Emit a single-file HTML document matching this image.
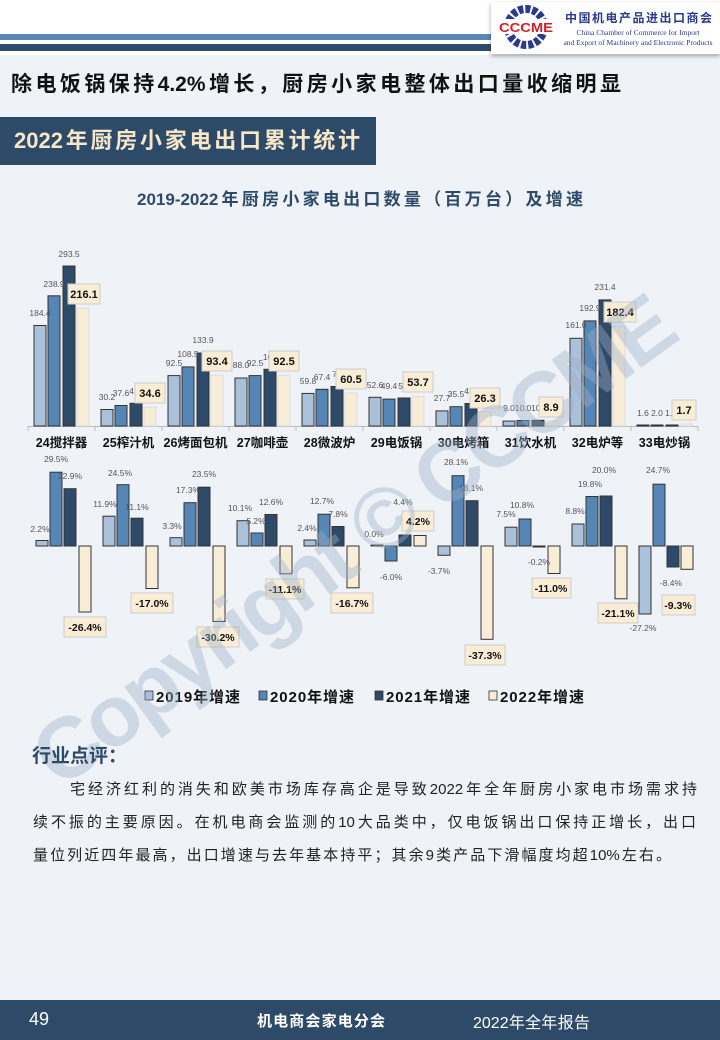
<!DOCTYPE html>
<html><head><meta charset="utf-8"><style>
body{margin:0;width:720px;height:1040px;overflow:hidden;background:#eff3f8;font-family:"Liberation Sans","Noto Sans CJK SC",sans-serif;position:relative}
.abs{position:absolute}
.j{text-align:justify;text-align-last:justify;white-space:nowrap}
</style></head><body>
<div class="abs" style="left:0;top:0;width:720px;height:55px;background:#fff"></div>
<div class="abs" style="left:0;top:34px;width:500px;height:6px;background:#5a88b6"></div>
<div class="abs" style="left:0;top:44px;width:500px;height:7px;background:#2f4b6b"></div>
<div class="abs" style="left:491px;top:2px;width:229px;height:52px;background:#fff;box-shadow:0 2px 4px rgba(0,0,0,.35)"></div>
<svg class="abs" style="left:496px;top:4px" width="62" height="48"><circle cx="30" cy="23" r="18" fill="none" stroke="#2b3a8f" stroke-width="8" stroke-dasharray="5 2"/><rect x="2" y="15" width="56" height="15" fill="#fff"/><text x="30" y="28" text-anchor="middle" font-family="Liberation Sans" font-weight="bold" font-size="13" fill="#d0202a" textLength="54" lengthAdjust="spacingAndGlyphs">CCCME</text></svg>
<div class="abs j" style="left:565px;top:9px;width:147px;font-size:12px;font-weight:bold;color:#2b3a8f">中国机电产品进出口商会</div>
<div class="abs" style="left:558px;top:28px;font-family:'Liberation Serif',serif;font-size:7.5px;color:#2b3a8f;line-height:10px;text-align:center;width:160px;white-space:nowrap">China Chamber of Commerce for Import<br>and Export of Machinery and Electronic Products</div>
<div class="abs j" style="left:11px;top:68px;width:610px;font-size:21px;font-weight:bold;color:#111">除电饭锅保持4.2%增长，厨房小家电整体出口量收缩明显</div>
<div class="abs" style="left:0;top:117px;width:376px;height:48px;background:#2e4a69"></div>
<div class="abs j" style="left:14px;top:123px;width:346px;font-size:22px;font-weight:bold;color:#f6e7c9">2022年厨房小家电出口累计统计</div>
<div class="abs j" style="left:137px;top:185px;width:446px;font-size:17px;font-weight:bold;color:#2e4a69">2019-2022年厨房小家电出口数量（百万台）及增速</div>

<svg class="abs" style="left:0;top:0" width="720" height="1040" font-family="Liberation Sans,Noto Sans CJK SC,sans-serif">
<g stroke="#bbb" stroke-width="1"><line x1="28" y1="426.5" x2="698" y2="426.5"/>
<line x1="28" y1="426" x2="28" y2="431"/><line x1="95" y1="426" x2="95" y2="431"/><line x1="162" y1="426" x2="162" y2="431"/><line x1="229" y1="426" x2="229" y2="431"/><line x1="296" y1="426" x2="296" y2="431"/><line x1="363" y1="426" x2="363" y2="431"/><line x1="430" y1="426" x2="430" y2="431"/><line x1="497" y1="426" x2="497" y2="431"/><line x1="564" y1="426" x2="564" y2="431"/><line x1="631" y1="426" x2="631" y2="431"/><line x1="698" y1="426" x2="698" y2="431"/></g>
<g stroke="#333" stroke-width="1">
<g fill="#aac1d9">
<rect x="34" y="325.5" width="12" height="100.5"/><rect x="101" y="409.5" width="12" height="16.5"/><rect x="168" y="375.6" width="12" height="50.4"/><rect x="235" y="378" width="12" height="48"/><rect x="302" y="393.4" width="12" height="32.6"/><rect x="369" y="397.3" width="12" height="28.7"/><rect x="436" y="410.9" width="12" height="15.1"/><rect x="503" y="421.1" width="12" height="4.9"/><rect x="570" y="338.3" width="12" height="87.7"/><rect x="637" y="425" width="12" height="1"/></g>
<g fill="#5686b5">
<rect x="48" y="295.8" width="12" height="130.2"/><rect x="115" y="405.5" width="12" height="20.5"/><rect x="182" y="366.9" width="12" height="59.1"/><rect x="249" y="375.6" width="12" height="50.4"/><rect x="316" y="389.3" width="12" height="36.7"/><rect x="383" y="399.1" width="12" height="26.9"/><rect x="450" y="406.7" width="12" height="19.3"/><rect x="517" y="420.5" width="12" height="5.5"/><rect x="584" y="320.9" width="12" height="105.1"/><rect x="651" y="425" width="12" height="1"/></g>
<g fill="#2e4a69">
<rect x="63" y="266" width="12" height="160"/><rect x="130" y="403.3" width="12" height="22.7"/><rect x="197" y="353" width="12" height="73"/><rect x="264" y="369.3" width="12" height="56.7"/><rect x="331" y="386.5" width="12" height="39.5"/><rect x="398" y="398" width="12" height="28"/><rect x="465" y="403.5" width="12" height="22.5"/><rect x="532" y="420.3" width="12" height="5.7"/><rect x="599" y="299.9" width="12" height="126.1"/><rect x="666" y="425" width="12" height="1"/></g>
</g>
<g fill="#f8edd7" stroke="#ddd" stroke-width="1">
<rect x="77" y="308.2" width="12" height="117.8"/><rect x="144" y="407.1" width="12" height="18.9"/><rect x="211" y="375.1" width="12" height="50.9"/><rect x="278" y="375.6" width="12" height="50.4"/><rect x="345" y="393" width="12" height="33"/><rect x="412" y="396.7" width="12" height="29.3"/><rect x="479" y="411.7" width="12" height="14.3"/><rect x="546" y="421.1" width="12" height="4.9"/><rect x="613" y="326.6" width="12" height="99.4"/><rect x="680" y="424" width="12" height="2"/></g>
<g font-size="8.5" fill="#555" text-anchor="middle">
<text x="40" y="316">184.4</text><text x="54" y="287">238.9</text><text x="69" y="257">293.5</text>
<text x="107" y="400">30.2</text><text x="121" y="396">37.6</text><text x="134" y="394">41</text>
<text x="174" y="366">92.5</text><text x="188" y="357">108.5</text><text x="203" y="343">133.9</text>
<text x="241" y="368">88.0</text><text x="255" y="366">92.5</text><text x="270" y="360">104</text>
<text x="308" y="384">59.8</text><text x="322" y="380">67.4</text><text x="337" y="377">72</text>
<text x="375" y="388">52.6</text><text x="389" y="389">49.4</text><text x="403" y="389">51</text>
<text x="442" y="401">27.7</text><text x="456" y="397">35.5</text><text x="469" y="394">41</text>
<text x="509" y="411">9.0</text><text x="523" y="411">10.0</text><text x="537" y="411">10.</text>
<text x="576" y="328">161.0</text><text x="590" y="311">192.9</text><text x="605" y="290">231.4</text>
<text x="643" y="416">1.6</text><text x="657" y="416">2.0</text><text x="671" y="416">1.8</text></g>
<g fill="#faedd5" stroke="#ccc" stroke-width="1">
<rect x="68" y="284" width="32" height="20"/><rect x="135" y="383" width="30" height="20"/><rect x="202" y="351" width="30" height="20"/><rect x="269" y="351" width="30" height="20"/><rect x="336" y="369" width="30" height="20"/><rect x="403" y="372" width="30" height="20"/><rect x="470" y="388" width="30" height="20"/><rect x="539" y="397" width="24" height="20"/><rect x="604" y="302" width="32" height="20"/><rect x="672" y="400" width="24" height="20"/></g>
<g font-size="11" font-weight="bold" fill="#111" text-anchor="middle">
<text x="84" y="298">216.1</text><text x="150" y="397">34.6</text><text x="217" y="365">93.4</text><text x="284" y="365">92.5</text><text x="351" y="383">60.5</text><text x="418" y="386">53.7</text><text x="485" y="402">26.3</text><text x="551" y="411">8.9</text><text x="620" y="316">182.4</text><text x="684" y="414">1.7</text></g>
<g font-size="12.5" font-weight="bold" fill="#111" text-anchor="middle">
<text x="61.5" y="447">24搅拌器</text><text x="128.5" y="447">25榨汁机</text><text x="195.5" y="447">26烤面包机</text><text x="262.5" y="447">27咖啡壶</text><text x="329.5" y="447">28微波炉</text><text x="396.5" y="447">29电饭锅</text><text x="463.5" y="447">30电烤箱</text><text x="530.5" y="447">31饮水机</text><text x="597.5" y="447">32电炉等</text><text x="664.5" y="447">33电炒锅</text></g>

<g stroke="#333" stroke-width="1">
<g fill="#aac1d9">
<rect x="36" y="540.5" width="12" height="5.5"/><rect x="103" y="516.2" width="12" height="29.8"/><rect x="170" y="537.7" width="12" height="8.3"/><rect x="237" y="520.7" width="12" height="25.3"/><rect x="304" y="540" width="12" height="6"/><rect x="371" y="545" width="12" height="1"/><rect x="438" y="546" width="12" height="9.3"/><rect x="505" y="527.2" width="12" height="18.8"/><rect x="572" y="524" width="12" height="22"/><rect x="639" y="546" width="12" height="68"/></g>
<g fill="#5686b5">
<rect x="50" y="472.2" width="12" height="73.8"/><rect x="117" y="484.7" width="12" height="61.3"/><rect x="184" y="502.7" width="12" height="43.3"/><rect x="251" y="533" width="12" height="13"/><rect x="318" y="514.2" width="12" height="31.8"/><rect x="385" y="546" width="12" height="15"/><rect x="452" y="475.7" width="12" height="70.3"/><rect x="519" y="519" width="12" height="27"/><rect x="586" y="496.5" width="12" height="49.5"/><rect x="653" y="484.2" width="12" height="61.8"/></g>
<g fill="#2e4a69">
<rect x="64" y="488.7" width="12" height="57.3"/><rect x="131" y="518.2" width="12" height="27.8"/><rect x="198" y="487.2" width="12" height="58.8"/><rect x="265" y="514.5" width="12" height="31.5"/><rect x="332" y="526.5" width="12" height="19.5"/><rect x="399" y="535" width="12" height="11"/><rect x="466" y="500.7" width="12" height="45.3"/><rect x="533" y="546" width="12" height="1"/><rect x="600" y="496" width="12" height="50"/><rect x="667" y="546" width="12" height="21"/></g>
<g fill="#f8edd7">
<rect x="79" y="546" width="12" height="66"/><rect x="146" y="546" width="12" height="42.5"/><rect x="213" y="546" width="12" height="75.5"/><rect x="280" y="546" width="12" height="27.8"/><rect x="347" y="546" width="12" height="41.8"/><rect x="414" y="535.5" width="12" height="10.5"/><rect x="481" y="546" width="12" height="93.3"/><rect x="548" y="546" width="12" height="27.5"/><rect x="615" y="546" width="12" height="52.8"/><rect x="681" y="546" width="12" height="23.3"/></g>
</g>
<g font-size="8.5" fill="#555" text-anchor="middle">
<text x="40" y="532">2.2%</text><text x="56" y="462">29.5%</text><text x="70" y="479">22.9%</text>
<text x="105" y="507">11.9%</text><text x="120" y="476">24.5%</text><text x="137" y="510">11.1%</text>
<text x="172" y="529">3.3%</text><text x="188" y="493">17.3%</text><text x="204" y="477">23.5%</text>
<text x="240" y="511">10.1%</text><text x="256" y="524">5.2%</text><text x="271" y="505">12.6%</text>
<text x="307" y="531">2.4%</text><text x="322" y="504">12.7%</text><text x="338" y="517">7.8%</text>
<text x="374" y="537">0.0%</text><text x="391" y="580">-6.0%</text><text x="403" y="505">4.4%</text>
<text x="439" y="574">-3.7%</text><text x="456" y="465">28.1%</text><text x="471" y="491">18.1%</text>
<text x="506" y="517">7.5%</text><text x="522" y="508">10.8%</text><text x="539" y="565">-0.2%</text>
<text x="575" y="514">8.8%</text><text x="590" y="487">19.8%</text><text x="604" y="473">20.0%</text>
<text x="643" y="631">-27.2%</text><text x="658" y="473">24.7%</text><text x="671" y="586">-8.4%</text></g>
<g fill="#faedd5" stroke="#ccc" stroke-width="1">
<rect x="64" y="617" width="42" height="20"/><rect x="131" y="593" width="42" height="20"/><rect x="197" y="627" width="42" height="20"/><rect x="266" y="579" width="38" height="20"/><rect x="331" y="593" width="42" height="20"/><rect x="402" y="511" width="32" height="20"/><rect x="465" y="645" width="40" height="20"/><rect x="532" y="578" width="39" height="20"/><rect x="598" y="603" width="40" height="20"/><rect x="662" y="595" width="33" height="20"/></g>
<g font-size="10.5" font-weight="bold" fill="#111" text-anchor="middle">
<text x="85" y="631">-26.4%</text><text x="152" y="607">-17.0%</text><text x="218" y="641">-30.2%</text><text x="285" y="593">-11.1%</text><text x="352" y="607">-16.7%</text><text x="418" y="525">4.2%</text><text x="485" y="659">-37.3%</text><text x="551" y="592">-11.0%</text><text x="618" y="617">-21.1%</text><text x="678" y="609">-9.3%</text></g>
<g stroke="#333" stroke-width="0.8"><rect x="145" y="691" width="8" height="9" fill="#aac1d9"/><rect x="259" y="691" width="8" height="9" fill="#5686b5"/><rect x="375" y="691" width="8" height="9" fill="#2e4a69"/><rect x="489" y="691" width="8" height="9" fill="#f8edd7"/></g>
<g font-size="15" font-weight="bold" fill="#111"><text x="156" y="702" textLength="84">2019年增速</text><text x="270" y="702" textLength="84">2020年增速</text><text x="386" y="702" textLength="84">2021年增速</text><text x="500" y="702" textLength="84">2022年增速</text></g>
<text transform="translate(60,790) rotate(-36)" font-size="86" font-weight="bold" fill="#9fb2c8" opacity="0.4" font-family="Liberation Sans,sans-serif" textLength="770">Copyright © CCCME</text>
</svg>

<div class="abs" style="left:32px;top:741px;font-size:19px;font-weight:bold;color:#2e4a69">行业点评：</div>
<div class="abs j" style="left:70px;top:778px;width:627px;font-size:15px;color:#222">宅经济红利的消失和欧美市场库存高企是导致2022年全年厨房小家电市场需求持</div>
<div class="abs j" style="left:33px;top:811px;width:663px;font-size:15px;color:#222">续不振的主要原因。在机电商会监测的10大品类中，仅电饭锅出口保持正增长，出口</div>
<div class="abs j" style="left:33px;top:844px;width:638px;font-size:15px;color:#222">量位列近四年最高，出口增速与去年基本持平；其余9类产品下滑幅度均超10%左右。</div>
<div class="abs" style="left:0;top:1000px;width:720px;height:40px;background:#2e4a69"></div>
<div class="abs" style="left:29px;top:1009px;font-size:18px;color:#fff">49</div>
<div class="abs j" style="left:257px;top:1010px;width:128px;font-size:15px;font-weight:bold;color:#fff">机电商会家电分会</div>
<div class="abs j" style="left:473px;top:1009px;width:117px;font-size:16px;color:#fff">2022年全年报告</div>
</body></html>
